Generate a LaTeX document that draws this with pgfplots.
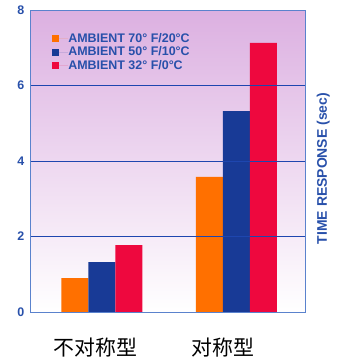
\documentclass[border=0pt]{standalone}
\usepackage{pgfplots}
\pgfplotsset{compat=1.18}
\usepackage{fontspec}
\setmainfont{Liberation Sans}
\newfontfamily\cjk{Noto Sans CJK SC}
\definecolor{cOrange}{RGB}{255,112,0}
\definecolor{cBlue}{RGB}{24,58,150}
\definecolor{cRed}{RGB}{238,8,62}
\definecolor{cText}{RGB}{40,80,170}
\definecolor{cGrid}{RGB}{30,70,175}
\definecolor{cFrame}{RGB}{90,130,205}
\definecolor{bgTop}{RGB}{220,176,225}
\definecolor{bgMid}{RGB}{242,218,242}
\begin{document}
\begin{tikzpicture}
\useasboundingbox (-30.7bp,-51bp) rectangle (312.3bp,312bp);
\begin{axis}[at={(0,0)}, anchor=south west, scale only axis,
  width=274.3bp, height=302bp,
  ybar=0pt, bar width=27bp,
  xmin=-0.53, xmax=1.51, ymin=0, ymax=8,
  ytick={0,2,4,6,8}, xtick={-0.05,0.9}, xticklabels={不对称型,对称型},
  major tick length=0pt,
  axis on top,
  axis line style={cFrame, line width=0.8pt},
  ymajorgrids, grid style={cGrid, line width=0.8pt},
  axis background/.style={top color=bgTop, middle color=bgMid, bottom color=white},
  /pgf/number format/assume math mode=true,
  yticklabel style={font=\bfseries\fontsize{12.5}{12.5}\selectfont, text=cText, xshift=-3bp},
  xticklabel style={font=\cjk\fontsize{21}{21}\selectfont, text=black, yshift=-22bp},
  ylabel={TIME RESPONSE (sec)},
  ylabel style={at={(axis description cs:1.03,0.475)}, anchor=north, rotate=0,
    font=\bfseries\fontsize{14}{14}\selectfont, text=cText},
  legend style={draw=none, fill=none, at={(rel axis cs:0.078,0.925)}, anchor=north west,
    font=\bfseries\fontsize{12.5}{12.5}\selectfont, text=cText, row sep=2bp,
    inner sep=0pt, nodes={inner sep=0.5bp}},
  legend cell align=left,
  legend image code/.code={\path (0bp,0bp) -- (15.5bp,0bp);\fill[#1, draw=none] (0bp,-3.5bp) rectangle (7bp,3.5bp);},
]
\addplot[fill=cOrange, draw=none] coordinates {(0,0.90) (1,3.58)};
\addplot[fill=cBlue, draw=none] coordinates {(0,1.32) (1,5.32)};
\addplot[fill=cRed, draw=none] coordinates {(0,1.77) (1,7.13)};
\legend{AMBIENT 70° F/20°C, AMBIENT 50° F/10°C, AMBIENT 32° F/0°C}
\end{axis}
\end{tikzpicture}
\end{document}
